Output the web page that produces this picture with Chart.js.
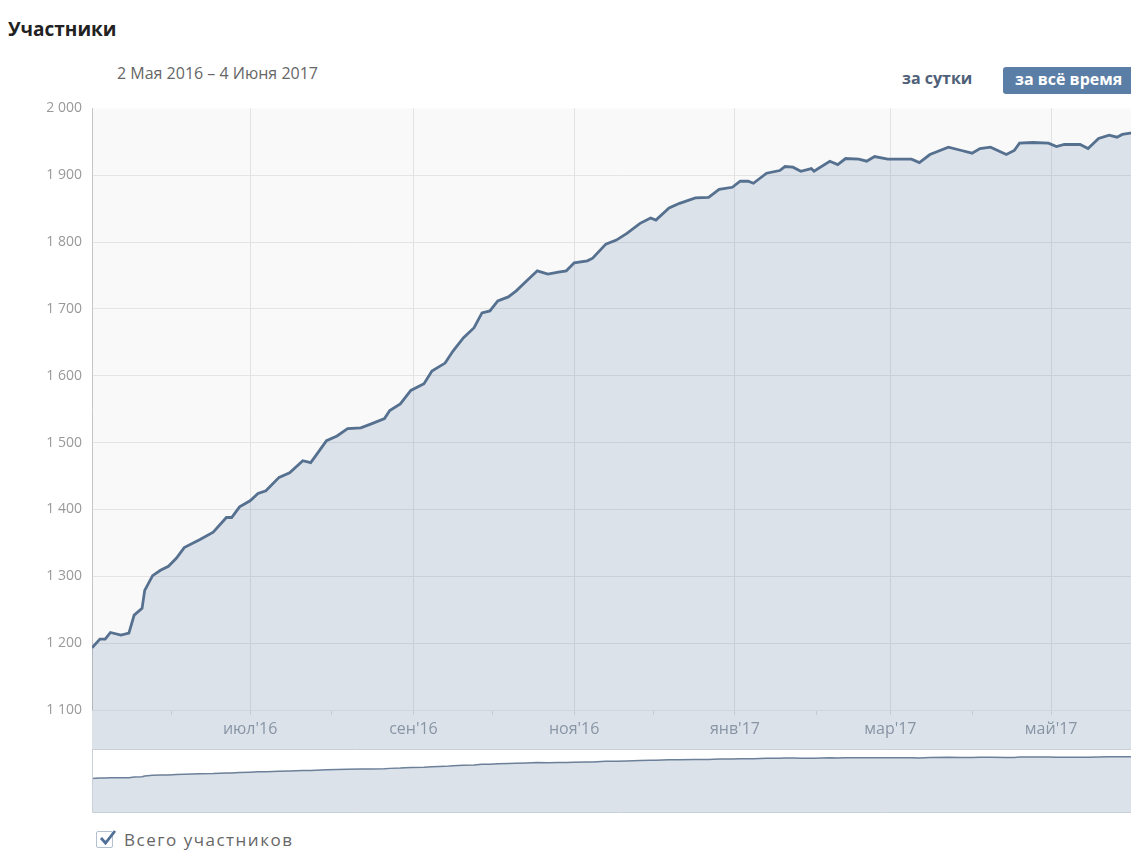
<!DOCTYPE html>
<html lang="ru">
<head>
<meta charset="utf-8">
<title>Участники</title>
<script src="https://cdn.jsdelivr.net/npm/chart.js@4.4.0/dist/chart.umd.min.js"></script>
<style>
  html, body { margin: 0; padding: 0; background: #fff; overflow: hidden; width: 1131px; height: 850px; }
  body { position: relative; font-family: "Open Sans", sans-serif; }
  .title { position: absolute; left: 8px; top: 16px; font-size: 19px; font-weight: 700; color: #222; }
  .range { position: absolute; left: 117px; top: 62px; font-size: 16px; color: #666; }
  .tab { position: absolute; top: 68px; font-size: 16px; font-weight: 700; color: #4f6178; }
  .tab.day { left: 902px; top: 67px; }
  .tab.all { left: 1003px; top: 67px; height: 27px; line-height: 25px; padding: 0 12px; background: #5b7ea6; color: #fff; border-radius: 3px; white-space: nowrap; }
  #main { position: absolute; left: 0; top: 90px; }
  #nav { position: absolute; left: 0; top: 749px; }
  .legend { position: absolute; left: 96px; top: 828px; font-size: 17px; color: #666; letter-spacing: 1.5px; }
  .legend .box { position: absolute; left: 0; top: 3px; width: 15px; height: 15px; border: 1px solid #b3c0cf; border-radius: 2px; background: #fff; }
  .legend .box svg { position: absolute; left: 1px; top: -4px; }
  .legend span { position: absolute; left: 28px; top: 0; white-space: nowrap; }
</style>
</head>
<body>
<div class="title">Участники</div>
<div class="range">2 Мая 2016 – 4 Июня 2017</div>
<div class="tab day">за сутки</div>
<div class="tab all">за всё время</div>
<canvas id="main" width="1146" height="659"></canvas>
<canvas id="nav" width="1146" height="64"></canvas>
<div class="legend">
  <div class="box"><svg width="19" height="19" viewBox="0 0 19 19"><path d="M3 10 L7.5 15 L17 3" fill="none" stroke="#4f6f96" stroke-width="2.8"/></svg></div>
  <span>Всего участников</span>
</div>
<script>
// days since 2 May 2016
const days = [0, 3, 5, 7, 11, 14, 16, 19, 20, 23, 26, 29, 32, 35, 41, 46, 51, 53, 56, 60,
  63, 66, 71, 75, 80, 83, 85, 89, 93, 97, 102, 106, 111, 113, 117, 121, 126, 129, 134, 137,
  141, 145, 148, 151, 154, 158, 161, 165, 169, 173, 177, 180, 183, 188, 190, 195, 199, 203, 208, 212,
  214, 219, 223, 229, 234, 238, 243, 246, 249, 251, 256, 261, 263, 266, 269, 273, 274, 280, 283, 286,
  291, 294, 297, 302, 307, 311, 314, 318, 325, 330, 334, 337, 341, 347, 350, 352, 357, 363, 366, 369,
  375, 378, 382, 386, 389, 391, 394, 398];
const members = [1193, 1206, 1206, 1216, 1212, 1215, 1242, 1252, 1279, 1301, 1309, 1315, 1327, 1343, 1355, 1366, 1388, 1388, 1404, 1413,
  1424, 1428, 1448, 1455, 1473, 1470, 1481, 1503, 1510, 1521, 1522, 1528, 1536, 1548, 1558, 1578, 1588, 1607, 1619, 1637,
  1657, 1672, 1694, 1697, 1712, 1718, 1727, 1742, 1757, 1752, 1755, 1757, 1769, 1772, 1776, 1797, 1803, 1813, 1828, 1836,
  1833, 1851, 1858, 1866, 1867, 1879, 1882, 1891, 1891, 1888, 1903, 1907, 1913, 1912, 1906, 1910, 1906, 1921, 1916, 1925,
  1924, 1921, 1928, 1924, 1924, 1924, 1919, 1931, 1942, 1937, 1933, 1940, 1942, 1931, 1937, 1948, 1949, 1948, 1943, 1946,
  1946, 1940, 1955, 1960, 1957, 1961, 1963, 1964];

// first day of each month, only odd months are labelled
const tickDays = [30, 60, 91, 122, 152, 183, 213, 244, 275, 303, 334, 364, 395];
const tickLabels = ['', "июл'16", '', "сен'16", '', "ноя'16", '', "янв'17", '', "мар'17", '', "май'17", ''];

const points = days.map((d, i) => ({ x: d, y: members[i] }));
const FONT = '"Open Sans", sans-serif';

const plotBackground = {
  id: 'plotBackground',
  beforeDraw(chart) {
    const { ctx, chartArea: a } = chart;
    ctx.save();
    ctx.fillStyle = '#f9f9f9';
    ctx.fillRect(a.left, a.top, a.right - a.left, a.bottom - a.top);
    ctx.fillStyle = '#dbe2ea';
    ctx.fillRect(a.left, a.bottom, a.right - a.left, chart.scales.x.bottom - a.bottom);
    ctx.restore();
  }
};

new Chart(document.getElementById('main'), {
  type: 'line',
  data: {
    datasets: [{
      data: points,
      borderColor: '#56708f',
      borderWidth: 2.8,
      backgroundColor: 'rgba(80, 115, 160, 0.17)',
      fill: 'start',
      pointRadius: 0,
      tension: 0
    }]
  },
  options: {
    responsive: false,
    animation: false,
    layout: { padding: 0 },
    plugins: { legend: { display: false }, tooltip: { enabled: false } },
    scales: {
      x: {
        type: 'linear',
        min: 0,
        max: 400,
        afterBuildTicks: s => { s.ticks = tickDays.map(v => ({ value: v })); },
        afterFit: s => { s.height = 39; },
        grid: {
          color: c => (c.tick && tickLabels[c.index]) ? '#e2e2e2' : 'rgba(0,0,0,0)',
          tickColor: '#c3cbd5',
          tickLength: 5
        },
        border: { color: '#cdd5de' },
        ticks: {
          autoSkip: false,
          maxRotation: 0,
          padding: 5,
          color: '#8895a5',
          font: { family: FONT, size: 16 },
          callback: (v, i) => tickLabels[i]
        }
      },
      y: {
        min: 1100,
        max: 2000,
        afterFit: s => { s.width = 92; },
        grid: {
          color: c => (c.tick && c.tick.value === 2000) ? 'rgba(0,0,0,0)' : '#e4e4e4',
          drawTicks: false
        },
        border: { color: '#c6c6c6' },
        ticks: {
          stepSize: 100,
          padding: 10,
          color: '#999',
          font: { family: FONT, size: 14 },
          callback: v => String(v).replace(/\B(?=(\d{3})+(?!\d))/g, ' ')
        }
      }
    }
  },
  plugins: [plotBackground]
});

// overview strip under the main chart
const navFrame = {
  id: 'navFrame',
  afterDraw(chart) {
    const { ctx, chartArea: a } = chart;
    ctx.save();
    ctx.strokeStyle = '#c8d0d9';
    ctx.lineWidth = 1;
    ctx.beginPath();
    ctx.moveTo(a.left + 0.5, a.top);
    ctx.lineTo(a.left + 0.5, a.bottom + 0.5);
    ctx.lineTo(a.right, a.bottom + 0.5);
    ctx.moveTo(a.left, 0.5);
    ctx.lineTo(a.right, 0.5);
    ctx.stroke();
    ctx.restore();
  }
};

new Chart(document.getElementById('nav'), {
  type: 'line',
  data: {
    datasets: [{
      data: points,
      borderColor: '#6c8099',
      borderWidth: 1.5,
      backgroundColor: '#dbe2ea',
      fill: 'start',
      pointRadius: 0,
      tension: 0
    }]
  },
  options: {
    responsive: false,
    animation: false,
    layout: { padding: { top: 1, right: 0, left: 92, bottom: 1 } },
    plugins: { legend: { display: false }, tooltip: { enabled: false } },
    scales: {
      x: { type: 'linear', min: 0, max: 400, display: false },
      y: { min: 0, max: 2200, display: false }
    }
  },
  plugins: [navFrame]
});
</script>
</body>
</html>
